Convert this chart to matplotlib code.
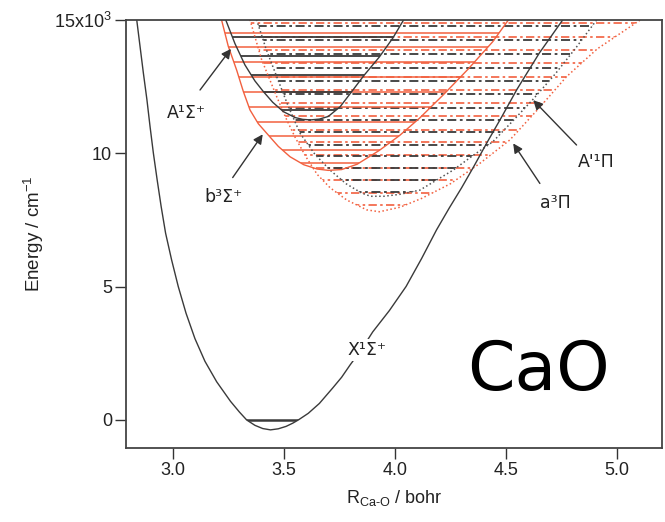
import numpy as np
import matplotlib
matplotlib.use("Agg")
import matplotlib.pyplot as plt
from matplotlib.patches import Polygon

# potential curves: R in bohr, E in 1e3 cm-1
x_r = [2.830, 2.838, 2.853, 2.868, 2.884, 2.898, 2.913, 2.930, 2.948, 2.968, 2.995, 3.025,
       3.060, 3.100, 3.145, 3.198, 3.260, 3.300, 3.333, 3.370, 3.405, 3.440, 3.475, 3.510,
       3.540, 3.565, 3.610, 3.660, 3.720, 3.760, 3.798, 3.850, 3.900, 3.975, 4.050, 4.120,
       4.187, 4.245, 4.300, 4.355, 4.412, 4.480, 4.550, 4.650, 4.756, 4.780]
x_e = [15.3, 15.0, 14.0, 13.0, 12.0, 11.0, 10.0, 9.0, 8.0, 7.0, 6.0, 5.0,
       4.0, 3.05, 2.2, 1.43, 0.7, 0.3, 0.0, -0.2, -0.32, -0.37, -0.33, -0.24,
       -0.12, 0.0, 0.25, 0.62, 1.2, 1.6, 2.06, 2.65, 3.3, 4.1, 5.0, 6.05,
       7.12, 7.95, 8.7, 9.5, 10.36, 11.35, 12.4, 13.75, 15.0, 15.3]

a_r = [3.228, 3.238, 3.280, 3.325, 3.370, 3.408, 3.450, 3.498, 3.550, 3.585, 3.620, 3.660,
       3.700, 3.753, 3.800, 3.860, 3.930, 3.990, 4.040, 4.055]
a_e = [15.3, 15.0, 14.1, 13.3, 12.7, 12.3, 11.9, 11.55, 11.33, 11.26, 11.24, 11.27,
       11.37, 11.73, 12.24, 12.9, 13.6, 14.3, 15.0, 15.3]

b_r = [3.215, 3.220, 3.250, 3.288, 3.318, 3.348, 3.385, 3.423, 3.475, 3.528, 3.590, 3.650,
       3.700, 3.760, 3.830, 3.930, 4.020, 4.110, 4.220, 4.330, 4.440, 4.510, 4.530]
b_e = [15.3, 14.98, 14.0, 13.1, 12.3, 11.61, 11.1, 10.74, 10.25, 9.86, 9.56, 9.4,
       9.35, 9.38, 9.58, 10.1, 10.65, 11.3, 12.2, 13.15, 14.17, 14.98, 15.3]

t_r = [3.343, 3.348, 3.400, 3.468, 3.510, 3.550, 3.600, 3.650, 3.708, 3.783, 3.873, 3.930,
       4.023, 4.120, 4.250, 4.380, 4.517, 4.650, 4.772, 4.910, 5.103, 5.130]
t_e = [15.3, 14.98, 13.5, 12.11, 11.3, 10.6, 9.85, 9.2, 8.7, 8.24, 7.87, 7.8,
       7.97, 8.3, 8.85, 9.6, 10.49, 11.7, 12.86, 13.9, 14.98, 15.3]

p_r = [3.373, 3.378, 3.420, 3.468, 3.520, 3.573, 3.640, 3.708, 3.780, 3.850, 3.890, 3.950,
       4.020, 4.112, 4.262, 4.350, 4.440, 4.530, 4.620, 4.720, 4.815, 4.907, 4.930]
p_e = [15.3, 14.98, 13.9, 12.86, 11.75, 10.74, 9.95, 9.36, 8.85, 8.5, 8.38, 8.38,
       8.45, 8.61, 9.36, 9.9, 10.42, 11.2, 12.0, 12.95, 13.95, 14.98, 15.3]

# vibrational levels (1e3 cm-1)
x_lev = [0.0]
a_lev = [11.6, 12.27, 12.93, 13.62, 14.35]
b_lev = [9.62, 10.1, 10.62, 11.18, 11.74, 12.3, 12.86, 13.42, 13.96, 14.48]
t_lev = [8.05, 8.52, 8.98, 9.45, 9.92, 10.4, 10.88, 11.37, 11.86, 12.36, 12.86, 13.36,
         13.86, 14.36, 14.86]
p_lev = [8.55, 9.0, 9.43, 9.87, 10.31, 10.77, 11.24, 11.7, 12.2, 12.7, 13.2, 13.72,
         14.24, 14.77]

xticks = [3.0, 3.5, 4.0, 4.5, 5.0]
yticks = [0, 5, 10, 15]
ytick_labels = ['0', '5', '10', '15x10$^3$']

plt.rcParams.update({
    'font.family': 'Liberation Sans',
    'mathtext.fontset': 'custom',
    'mathtext.rm': 'Liberation Sans',
    'mathtext.it': 'Liberation Sans:italic',
    'mathtext.bf': 'Liberation Sans:bold',
    'font.size': 13,
})

black = '#3a3a3a'
red = '#f2603f'
dashdot = (0, (5, 2, 1.5, 2))

fig = plt.figure(figsize=(6.65, 5.22), dpi=100)
ax = fig.add_axes([0.1895, 0.1412, 0.8055, 0.8214])
ax.set_xlim(2.79, 5.2)
ax.set_ylim(-1.06, 15)


def well(r, e):
    return Polygon(np.column_stack([r, e]), closed=True, transform=ax.transData)


def levels(lev, r, e, color, ls, lw):
    lc = ax.hlines(lev, 2.7, 5.3, colors=color, linestyles=ls, linewidths=lw)
    lc.set_clip_path(well(r, e))


levels(t_lev, t_r, t_e, red, dashdot, 1.2)
levels(p_lev, p_r, p_e, black, dashdot, 1.3)
levels(b_lev, b_r, b_e, red, '-', 1.1)
levels(a_lev, a_r, a_e, black, '-', 1.3)
levels(x_lev, x_r, x_e, black, '-', 1.8)

ax.plot(t_r, t_e, ':', color=red, lw=1.1)
ax.plot(p_r, p_e, ':', color='#555555', lw=1.1)
ax.plot(b_r, b_e, '-', color=red, lw=1.0)
ax.plot(a_r, a_e, '-', color=black, lw=1.0)
ax.plot(x_r, x_e, '-', color=black, lw=1.0)

arrow = dict(arrowstyle='-|>', color='#333333', lw=1.0, mutation_scale=14, shrinkA=0, shrinkB=0)
ax.annotate('', xy=(3.262, 13.9), xytext=(3.123, 12.36), arrowprops=arrow)
ax.annotate('', xy=(3.405, 10.7), xytext=(3.27, 9.08), arrowprops=arrow)
ax.annotate('', xy=(4.622, 11.98), xytext=(4.817, 10.3), arrowprops=arrow)
ax.annotate('', xy=(4.532, 10.36), xytext=(4.652, 8.86), arrowprops=arrow)

lab = dict(family='DejaVu Sans', fontsize=12.5, color='#222222', ha='center', va='center')
ax.text(3.063, 11.49, 'A¹Σ⁺', **lab)
ax.text(3.228, 8.36, 'b³Σ⁺', **lab)
ax.text(4.907, 9.67, "A'¹Π", **lab)
ax.text(4.72, 8.11, 'a³Π', **lab)
ax.text(3.873, 2.62, 'X¹Σ⁺', bbox=dict(facecolor='white', edgecolor='none', pad=1.5), **lab)
ax.text(4.645, 1.83, 'CaO', family='DejaVu Sans', fontsize=49, color='black',
        ha='center', va='center')

ax.set_xticks(xticks)
ax.set_xticklabels([f'{t:.1f}' for t in xticks])
ax.set_yticks(yticks)
ax.set_yticklabels(ytick_labels)
ax.tick_params(direction='out', length=8, width=1.0, color='#333333', pad=2, labelcolor='#222222')
for s in ax.spines.values():
    s.set_color('#444444')
    s.set_linewidth(1.3)

ax.set_xlabel(r'R$_{\mathrm{Ca\text{-}O}}$ / bohr', labelpad=6, color='#222222')
ax.set_ylabel('Energy / cm$^{-1}$', labelpad=6, color='#222222', fontsize=13.5)

fig.savefig('out.png', dpi=100)
